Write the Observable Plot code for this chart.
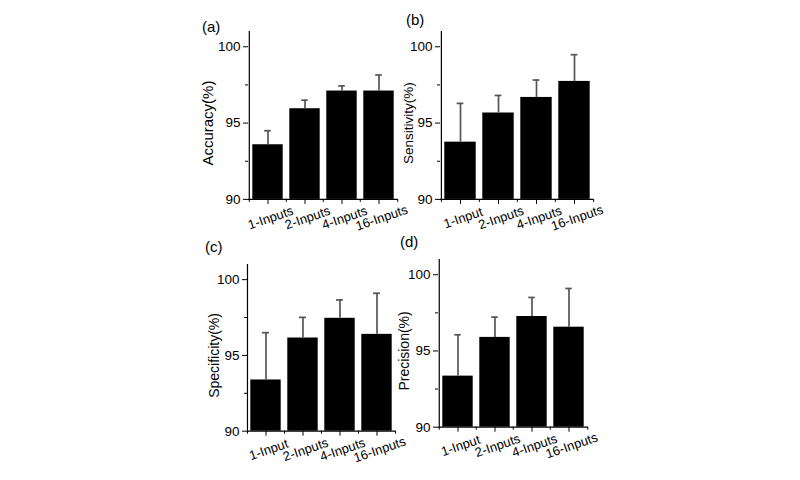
<!DOCTYPE html>
<html><head><meta charset="utf-8">
<script src="https://cdn.jsdelivr.net/npm/d3@7"></script>
<script src="https://cdn.jsdelivr.net/npm/@observablehq/plot@0.6"></script>
<style>
body{margin:0;background:#fff;}
#root{position:relative;width:800px;height:480px;overflow:hidden;background:#fff;font-family:"Liberation Sans",Arial,sans-serif;}
.panel{position:absolute;}
.tag{position:absolute;font-size:15px;line-height:1;color:#000;font-family:"Liberation Sans",Arial,sans-serif;}
</style></head><body><div id="root"></div>
<script>
// ---- data ----
const catsA = ["1-Inputs", "2-Inputs", "4-Inputs", "16-Inputs"];
const catsB = ["1-Input", "2-Inputs", "4-Inputs", "16-Inputs"];
const accuracy = [93.58, 95.94, 97.10, 97.10];
const accuracyErr = [0.92, 0.56, 0.34, 1.05];
const sensitivity = [93.75, 95.66, 96.68, 97.73];
const sensitivityErr = [2.54, 1.15, 1.14, 1.75];
const specificity = [93.38, 96.15, 97.45, 96.39];
const specificityErr = [3.12, 1.36, 1.21, 2.71];
const precision = [93.35, 95.89, 97.26, 96.56];
const precisionErr = [2.71, 1.33, 1.25, 2.54];
const yTicks = [90, 95, 100];
const yMinorTicks = [92.5, 97.5];
const yDomain = [90, 101];
const panelTags = ["(a)", "(b)", "(c)", "(d)"];
const yTitles = ["Accuracy(%)", "Sensitivity(%)", "Specificity(%)", "Precision(%)"];

// ---- layout ----
const panels = [
  {tag: panelTags[0], title: yTitles[0], cats: catsA, values: accuracy, errs: accuracyErr,
   L: 248, T: 31.4, R: 397.6, B: 199.3, titleDx: -40, titleSize: 15, tagX: 202, tagY: 19},
  {tag: panelTags[1], title: yTitles[1], cats: catsB, values: sensitivity, errs: sensitivityErr,
   L: 440, T: 31.4, R: 593, B: 199.3, titleDx: -31.5, titleSize: 13.5, tagX: 406, tagY: 12},
  {tag: panelTags[2], title: yTitles[2], cats: catsB, values: specificity, errs: specificityErr,
   L: 247.3, T: 264.3, R: 395.5, B: 431, titleDx: -33, titleSize: 14, tagX: 205, tagY: 239},
  {tag: panelTags[3], title: yTitles[3], cats: catsB, values: precision, errs: precisionErr,
   L: 437.7, T: 259, R: 587.7, B: 426.7, titleDx: -34, titleSize: 14, tagX: 400, tagY: 234}
];

const root = document.getElementById("root");
const mL = 70, mR = 20, mT = 6, mB = 50;

for (const p of panels) {
  const W = p.R - p.L, H = p.B - p.T;
  const step = W / p.cats.length;
  const capInset = (step - 7) / 2;
  const data = p.cats.map((c, i) => ({cat: c, value: p.values[i], err: p.errs[i]}));
  const chart = Plot.plot({
    width: W + mL + mR, height: H + mT + mB,
    marginLeft: mL, marginRight: mR, marginTop: mT, marginBottom: mB,
    style: {background: "transparent", fontFamily: "Liberation Sans, Arial, sans-serif", overflow: "visible", color: "#000"},
    x: {type: "band", domain: p.cats, padding: 0, label: null},
    y: {domain: yDomain, label: null},
    marks: [
      Plot.barY(data, {x: "cat", y1: () => yDomain[0], y2: "value", fill: "#000", insetLeft: 3.3, insetRight: 3.3}),
      Plot.ruleX(data, {x: "cat", y1: "value", y2: d => d.value + d.err, stroke: "#555", strokeWidth: 1.7}),
      Plot.tickY(data, {x: "cat", y: d => d.value + d.err, stroke: "#555", strokeWidth: 1.7, insetLeft: capInset, insetRight: capInset}),
      Plot.ruleY([yDomain[0]], {stroke: "#000", strokeWidth: 1.2}),
      Plot.ruleX([p.cats[0]], {y1: () => yDomain[0], y2: () => yDomain[1], dx: -step / 2, stroke: "#000", strokeWidth: 1.2}),
      Plot.axisY({ticks: yTicks, tickSize: 5, tickPadding: 3, fontSize: 13.5, label: null}),
      Plot.axisY({ticks: yMinorTicks, tickSize: 3, text: null, label: null}),
      Plot.axisX({ticks: p.cats, tickSize: 5, text: null, label: null}),
      Plot.axisX({ticks: p.cats, tickSize: 3, text: null, label: null, dx: -step / 2}),
      Plot.axisX({ticks: [p.cats[p.cats.length - 1]], tickSize: 3, text: null, label: null, dx: step / 2}),
      Plot.text(p.cats, {x: d => d, text: d => d, frameAnchor: "bottom", dy: 22.5, dx: 4, rotate: -19, fontSize: 13, textAnchor: "middle", fill: "#000"}),
      Plot.text([{t: p.title, v: 95}], {y: "v", text: "t", frameAnchor: "left", textAnchor: "middle", rotate: -90, dx: p.titleDx, fontSize: p.titleSize, fill: "#000"})
    ]
  });
  const wrap = document.createElement("div");
  wrap.className = "panel";
  wrap.style.left = (p.L - mL) + "px";
  wrap.style.top = (p.T - mT) + "px";
  wrap.style.width = (W + mL + mR) + "px";
  wrap.appendChild(chart);
  root.appendChild(wrap);
  const tag = document.createElement("div");
  tag.className = "tag";
  tag.style.left = p.tagX + "px";
  tag.style.top = p.tagY + "px";
  tag.textContent = p.tag;
  root.appendChild(tag);
}
</script></body></html>
